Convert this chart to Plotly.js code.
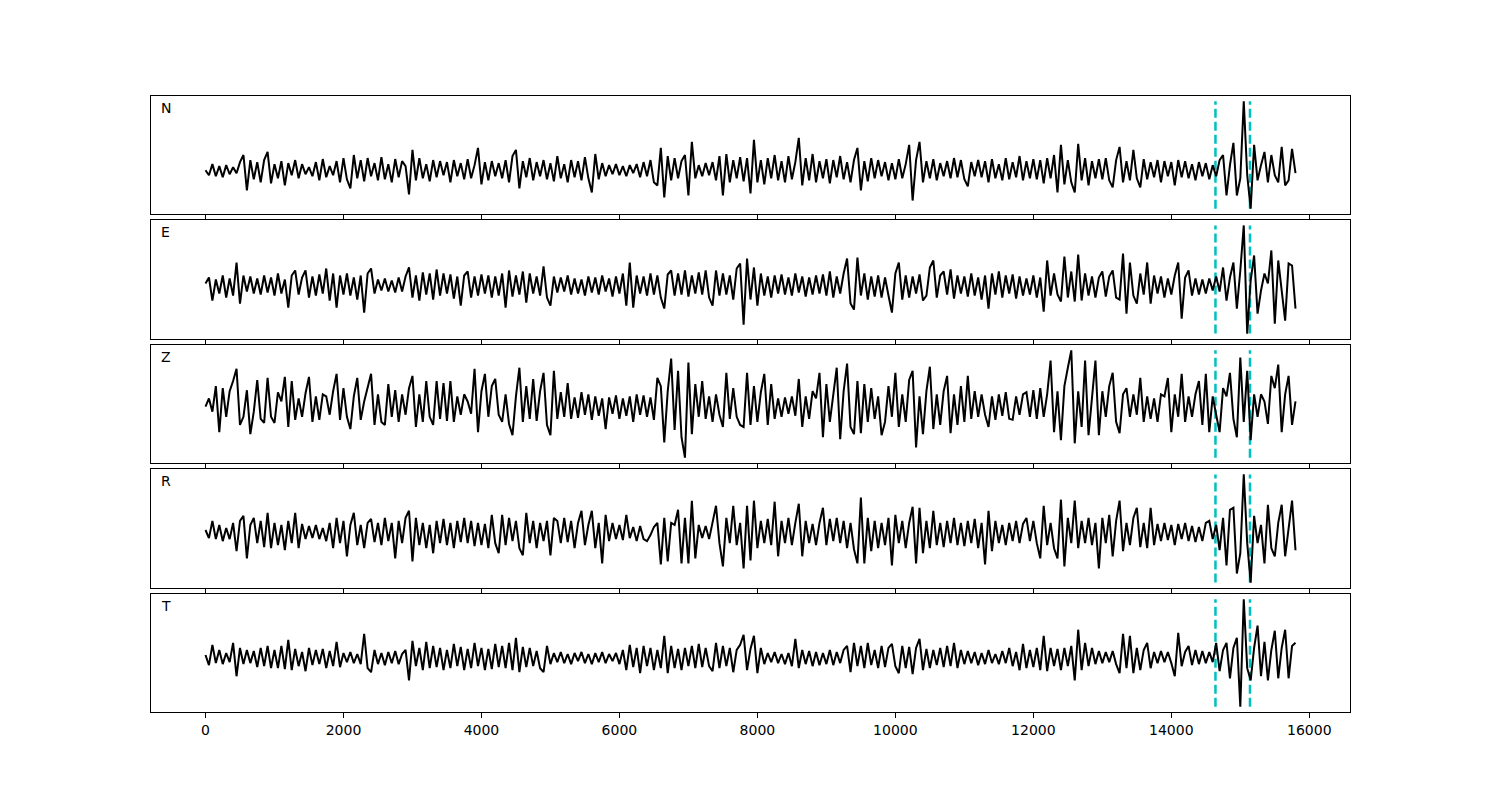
<!DOCTYPE html>
<html><head><meta charset="utf-8">
<script src="https://cdn.plot.ly/plotly-3.0.1.min.js"></script>
<style>body{margin:0;background:#fff}#chart{width:1500px;height:800px}</style>
</head><body><div id="chart"></div>
<script>
// sample spacing of the traces (x units)
const dt = 50;
const channels = ["N", "E", "Z", "R", "T"];

const ampN = [
  0, -5, 6, -6, 4, -7, 5, -4, 3, -3, 8, 15, -20, 10, -9, 8, -12, 10, 18, -13,
  6, -8, 9, -15, 7, -5, 10, -8, 6, -4, 3, -6, 8, -10, 11, -7, 4, -5, 9, -12,
  12, -9, -18, 15, -8, 10, -11, 12, -6, 7, -10, 13, -9, 6, -12, 11, -7, 9, 4, -24,
  20, -10, 12, -8, 6, -11, 10, -7, 9, -5, 8, -12, 10, -6, 7, -9, 11, -8, 5, 22,
  -14, 8, -10, 9, -6, 7, -8, 10, -12, 14, 20, -18, 9, -7, 12, -10, 8, -6, 10, -9,
  7, -11, 14, -8, 6, -12, 10, -7, 9, -10, 13, -8, -22, 16, -9, 7, -6, 5, -4, 6,
  -5, 4, -6, 5, -3, 6, -7, 8, -6, 10, -12, -15, 22, -27, 14, -10, 12, -8, 9, 15,
  -25, 28, -8, 5, -6, 7, -5, 8, -10, 14, -25, 16, -12, 10, -8, 13, -11, 12, -23, 30,
  -12, 10, -14, 12, -8, 15, -10, 9, -12, 14, -9, 8, 32, -15, 12, -10, 16, -12, 9, -8,
  11, -13, 10, -7, 14, -9, 8, -12, 10, 22, -20, 9, -11, 12, -8, 10, -6, 8, -10, 7,
  -9, 11, -8, 6, 25, -30, 10, 28, -12, 9, -8, 11, -10, 7, -6, 9, -8, 12, -7, 10,
  -9, -16, 8, -6, 10, -7, 9, -12, 11, -8, 6, -10, 12, -9, 8, -7, 14, -10, 9, -8,
  11, -9, 10, -13, 12, -8, 15, -22, 25, -14, 10, -12, -22, 26, -10, 12, -15, 9, -8, 11,
  -9, 12, -10, -17, 10, 23, -12, 9, -10, 20, -8, -17, 11, -9, 8, -7, 10, -12, 9, -6,
  8, -15, 10, -7, 9, -8, 6, -10, 8, -6, 7, -9, 5, -6, 10, 15, -25, 5, 27, -25,
  -8, 68, -5, -38, 25, -10, 5, 18, -12, 15, -5, -12, 23, -15, -10, 21, -3
];

const ampE = [
  2, 8, -15, 6, -8, 10, -12, 7, -10, 23, -18, 10, -6, 9, -8, 7, -9, 10, -7, 8,
  -10, 12, -8, 6, -22, 10, 15, -9, 8, 15, -12, 9, -10, 11, -8, 17, -15, 12, -22, 10,
  -9, 12, -10, 8, -14, 10, -27, 12, 17, -8, 6, -5, 7, -6, 5, -7, 8, -6, 9, 18,
  -12, 10, -15, 13, -9, 12, -14, 16, -10, 12, -8, 11, -13, 9, -20, 10, 14, -12, 9, -10,
  11, -8, 10, -12, 9, -10, 12, -22, 15, -11, 10, -9, 14, -17, 12, -8, 9, -10, 19, -12,
  -20, 9, -7, 8, -6, 10, -9, 7, -8, 6, -10, 9, -7, 8, -9, 10, -6, 7, -11, 9,
  -8, 12, -20, 23, -22, 10, -8, 9, -10, 12, -9, 10, -12, -23, 11, 15, -10, 12, -9, 15,
  -11, 10, -8, 13, -9, 15, -12, -20, 15, -10, 12, -9, 10, -14, 17, 22, -39, 27, -14, 18,
  -20, 12, -10, 9, -12, 10, -8, 11, -9, 8, -10, 12, -7, 9, -11, 8, -9, 10, -8, 11,
  -10, 14, -12, 9, -8, 12, 27, -18, -24, 28, -10, 12, -14, 9, -11, 10, -12, 8, -10, -27,
  12, 23, -14, 10, -12, 9, -8, 11, -15, -10, 18, 25, -12, 10, 14, -9, 16, -13, 10, -8,
  9, -11, 12, -10, 8, -14, 10, -23, 12, -9, 14, -12, 10, -8, 11, -13, 9, -10, 7, -9,
  10, -12, 8, -26, 25, -10, 12, -9, -16, 29, -12, 14, -16, 31, -15, 12, -10, 9, -12, 8,
  14, -11, 9, 15, -12, -14, 32, -28, 23, -10, -18, 12, -9, 23, -18, 10, -8, 9, -12, 7,
  -9, 10, 23, -33, 8, 15, -10, 7, -9, 6, -8, 7, -5, 9, -6, 18, -15, 8, 23, -23,
  15, 60, -48, 5, 30, -28, -5, 12, 2, 35, -38, 25, -5, -35, 22, 20, -23
];

const ampZ = [
  0, 8, -5, 20, -25, 18, -10, 15, 25, 37, -18, -10, 16, -27, -5, 26, -12, -16, 28, -10,
  -16, 14, 5, 29, -20, 25, -13, 8, -10, 13, 29, -15, 10, -13, 12, 10, -8, 15, 32, -13,
  18, -10, -22, 10, 28, -13, 5, 20, 32, -18, 12, -15, -18, 22, -10, 16, -15, 12, -8, 18,
  30, -20, 12, -15, 25, -10, -18, 25, -12, 23, -14, 25, -15, 10, -8, 12, 5, -7, 37, -25,
  15, 32, -10, 20, 27, -8, -15, 12, -17, -28, 10, 38, -15, 20, -12, 27, -14, 15, 33, -18,
  -28, 35, -12, 14, -10, 23, -12, 9, -11, 14, -8, 12, -13, 10, -9, 8, -22, 9, -7, 11,
  -12, 8, -9, 10, -15, 12, -8, 11, -10, 9, -13, 28, 20, -35, 15, 47, -23, 35, -30, -50,
  43, -27, 22, -10, 25, -12, 10, -15, 12, -8, -20, 33, -12, 18, -10, -18, -20, 33, -18, 20,
  -15, 14, 32, -18, 22, -12, 8, -10, 9, -7, 10, -9, 27, -20, 10, -12, 15, 8, 33, -30,
  22, -15, 12, 38, -32, 15, 42, -20, -27, 25, -26, 22, -15, 18, -12, 10, -28, -15, 20, -10,
  33, -20, 12, -15, 26, 35, -40, 10, -27, 15, 39, -22, 12, -18, 15, 30, -26, 12, -18, 20,
  -15, 30, -12, 15, -10, 12, -8, -20, 10, -13, 12, -9, 14, -12, -13, 10, -8, 12, 14, -10,
  16, -12, 18, -10, 12, 45, -25, 15, -33, 20, 38, 55, -36, 15, -20, 45, -28, 12, 45, -28,
  15, -10, 20, 33, -15, -26, 12, 18, -10, 12, -8, 28, -15, 10, -12, 8, -15, 12, 10, 28,
  -25, 12, -10, 32, -15, 10, -10, 12, 25, -18, 32, -25, 10, -8, -25, 18, 10, 33, -12, -30,
  48, -15, 35, -33, 12, -10, 12, 5, -17, 30, 18, 41, -25, 12, 30, -18, 5
];

const ampR = [
  3, -5, 12, -6, 8, -8, 5, -6, 10, -18, 12, 17, -25, 8, 15, -10, 12, -14, 20, -15,
  10, -12, 8, -17, 12, -10, 20, -15, 9, -6, 7, -5, 8, -6, 5, -8, 10, -15, 15, -10,
  12, -23, 8, 20, -12, 8, -15, 10, 14, -9, 10, -12, 15, -8, 10, -25, 12, -10, 15, 22,
  -28, 15, -12, 10, -15, 8, -20, 12, -10, 14, -12, 10, -15, 12, -9, 15, -10, 12, -13, 10,
  -12, 9, -15, 18, -10, -20, 18, -12, 15, -8, 12, -15, -22, 20, -10, 12, -15, 10, -8, 12,
  -22, 15, 12, -10, 15, -9, 12, -15, 10, 22, -12, 8, 22, -15, 10, -30, 18, -8, 10, -6,
  8, -7, 18, -5, 6, -8, 7, -6, -8, -2, 6, 10, -31, 15, -28, 10, 8, 23, -30, 15,
  -30, 32, -25, 8, -5, 7, -6, 10, 27, -10, -33, 15, -10, 27, -12, 10, -35, 27, -27, 32,
  -15, 12, -10, 14, -12, 31, -23, 12, -10, 15, -12, 10, 29, -23, 12, -10, 9, -12, 10, 25,
  -12, 14, -8, 15, -10, 12, -15, 10, -16, -30, 35, -30, 15, -18, 12, -15, 10, -12, 15, -32,
  18, -10, 12, -15, 10, 26, -30, 25, -20, 12, -15, 22, -12, 10, -14, 12, -10, 15, -12, 10,
  -13, 12, -10, 14, -15, 10, -31, 22, -18, 12, -10, 8, -12, 10, -8, 12, -10, 9, 15, -8,
  12, -10, -25, 27, -12, 10, -15, -25, 33, -33, 15, -10, 32, -15, 12, -10, 15, -12, 10, -35,
  15, -10, 18, -23, 12, 32, -18, 10, -12, 15, 25, -14, 10, -15, 25, -12, 9, -8, 10, -7,
  8, -12, 9, -6, 10, -8, 7, -9, 6, -8, 10, 12, -6, 8, -17, 15, -32, 23, 25, -40,
  -20, 58, -10, -49, 17, -10, 8, -30, 28, -15, -23, 10, 28, -23, 5, 32, -17
];

const ampT = [
  3, -7, 13, -5, 8, -6, 5, -4, 15, -18, 10, -6, 8, -5, 7, -9, 10, -8, 12, -10,
  8, -10, 12, -11, 18, -12, 9, -8, 6, -13, 10, -7, 8, -6, 9, -10, 7, -8, 16, -9,
  5, -4, 6, -5, 4, -6, 24, -10, -14, 8, -6, 5, -7, 6, -5, 7, -6, 4, 8, -22,
  17, -8, 10, -12, 16, -10, 12, -9, 10, -12, 8, -10, 14, -8, 11, -12, 9, -10, 15, -8,
  10, -12, 9, -11, 14, -9, 12, -10, 15, -12, 20, -14, 11, -9, 10, -8, 7, -10, -14, 12,
  -6, 5, -4, 6, -5, 4, -6, 5, -3, 6, -5, 4, -6, 5, -4, 6, -5, 4, -3, 5,
  -6, 8, -12, 13, -9, 10, -15, 12, -8, 10, -12, 8, -10, 22, -15, 12, -10, 9, -12, 10,
  -8, 12, -10, 14, -9, 10, -8, -13, 15, -10, 12, -8, 10, -14, 8, 13, 23, -12, 9, 22,
  -15, 10, -6, 5, -4, 6, -5, 4, -6, 5, -8, 19, -10, 8, -6, 7, -8, 6, -7, 5,
  -6, 8, -7, 6, -5, 8, 12, -14, 15, -8, 12, -10, 15, -7, 8, -10, 12, -9, 10, 14,
  -8, -15, 12, -10, 11, -16, 10, 19, -12, 9, -10, 8, -7, 10, -9, 12, -8, 15, -10, 8,
  -6, 7, -5, 6, -7, 5, -6, 8, -5, 4, -6, 7, -5, 10, -8, 6, -12, 14, -10, 8,
  -9, 10, -12, 22, -13, 10, -8, 9, -12, 10, -8, 12, -22, 28, -12, 15, -8, 10, -6, 7,
  -5, 6, -4, 7, -6, -15, 24, -10, 22, -15, 10, -12, 8, 15, -10, 6, -5, 7, -4, 6,
  -5, -18, 25, -8, 6, 12, -7, 8, -6, 7, -5, 6, -4, 15, -13, 8, 15, -20, 10, 20,
  -48, 58, -10, -22, 10, 32, -18, 16, -22, 8, 27, -20, 10, 28, -20, 12, 15
];

// phase picks (dashed vertical markers)
const picks = [14640, 15140];
const tickVals = [0, 2000, 4000, 6000, 8000, 10000, 12000, 14000, 16000];
const tickText = ["0", "2000", "4000", "6000", "8000", "10000", "12000", "14000", "16000"];

const series = [ampN, ampE, ampZ, ampR, ampT];
const domains = [[0.8084, 1], [0.6055, 0.7987], [0.4042, 0.5958], [0.2013, 0.3945], [0, 0.1916]];
const font = "DejaVu Sans, Arial, sans-serif";

const traces = [];
const layout = {
  width: 1500, height: 800,
  margin: {l: 151, r: 150, t: 96, b: 88},
  paper_bgcolor: "#fff", plot_bgcolor: "#fff",
  showlegend: false,
  annotations: [],
  font: {family: font, size: 14, color: "#000"}
};

series.forEach((amp, k) => {
  const n = k + 1;
  const sfx = n === 1 ? "" : String(n);
  const xa = "x" + sfx;
  const ya = "y" + sfx;
  const t = amp.map((_, i) => i * dt);
  const lo = Math.min(...amp), hi = Math.max(...amp);
  const pad = 0.05 * (hi - lo);
  picks.forEach(p => {
    traces.push({x: [p, p], y: [lo, hi], xaxis: xa, yaxis: ya, mode: "lines",
      line: {color: "#00BFBF", width: 2.5, dash: "9px,4px"}, hoverinfo: "skip"});
  });
  traces.push({x: t, y: amp, xaxis: xa, yaxis: ya, mode: "lines",
    line: {color: "#000", width: 2, shape: "linear"}, hoverinfo: "skip"});
  const xax = {
    anchor: ya, domain: [0, 1], range: [-790, 16590],
    showline: true, mirror: true, linecolor: "#000", linewidth: 1,
    ticks: "outside", ticklen: 5, tickwidth: 1, tickcolor: "#000",
    tickvals: tickVals, ticktext: tickText,
    showticklabels: k === series.length - 1,
    tickfont: {family: font, size: 14, color: "#000"},
    showgrid: false, zeroline: false
  };
  if (n !== 1) xax.matches = "x";
  layout["xaxis" + sfx] = xax;
  layout["yaxis" + sfx] = {
    anchor: xa, domain: domains[k], range: [lo - pad, hi + pad],
    showline: true, mirror: true, linecolor: "#000", linewidth: 1,
    ticks: "", showticklabels: false, showgrid: false, zeroline: false
  };
  layout.annotations.push({
    text: channels[k], xref: xa + " domain", yref: ya + " domain",
    x: 0.007, y: 1, xanchor: "left", yanchor: "middle", yshift: -12,
    showarrow: false, font: {family: font, size: 14, color: "#000"}
  });
});

Plotly.newPlot("chart", traces, layout, {displayModeBar: false, staticPlot: true});
</script>
</body></html>
